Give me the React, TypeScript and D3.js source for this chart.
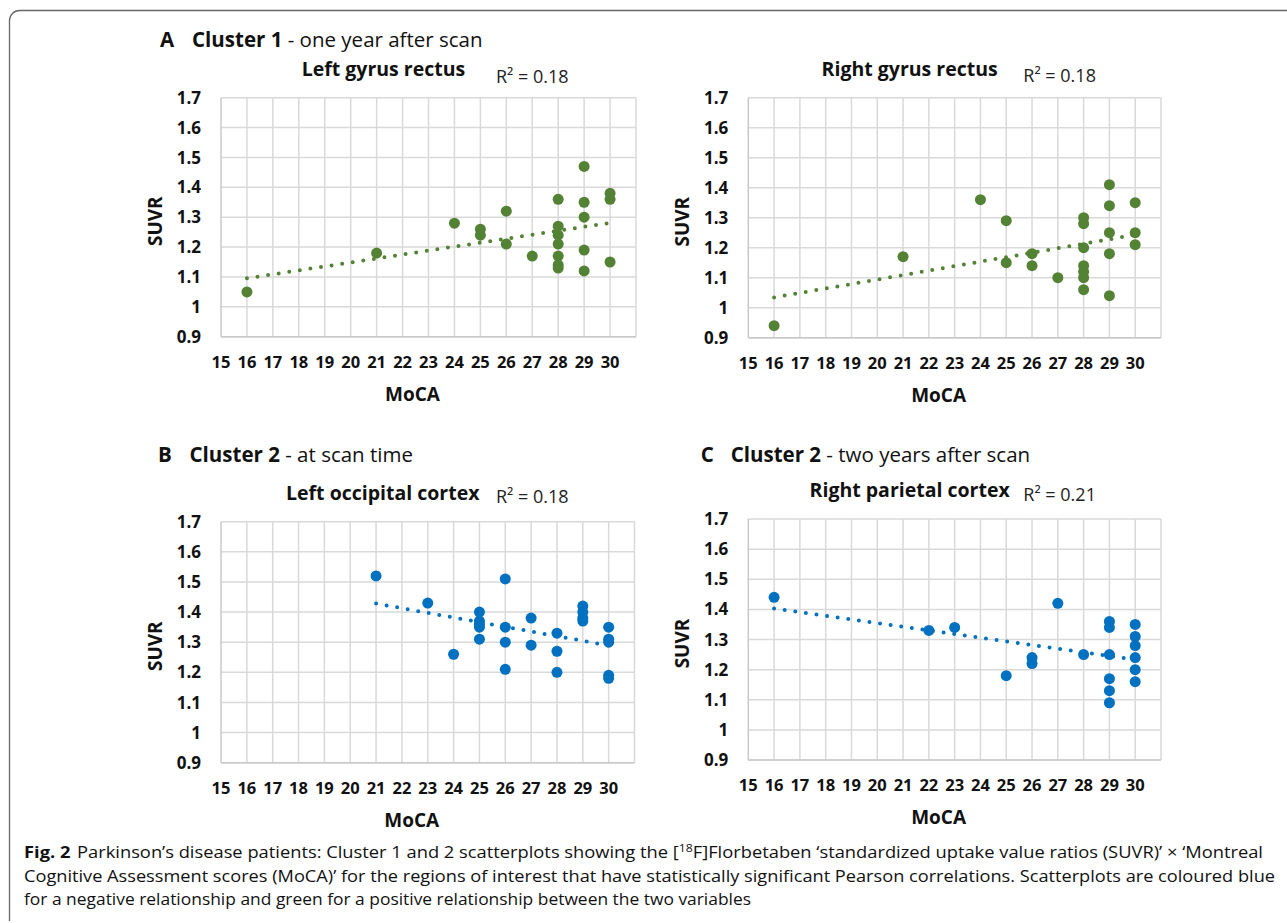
import * as d3 from "d3";
import React from "react";

// tick labels
const mocaTicks = [15, 16, 17, 18, 19, 20, 21, 22, 23, 24, 25, 26, 27, 28, 29, 30];
const suvrTicks = [0.9, 1.0, 1.1, 1.2, 1.3, 1.4, 1.5, 1.6, 1.7];

// A - Cluster 1, one year after scan, left gyrus rectus
const leftGyrusMoca = [16, 21, 24, 25, 25, 26, 26, 27, 28, 28, 28, 28, 28, 28, 28, 29, 29, 29, 29, 29, 30, 30, 30];
const leftGyrusSuvr = [1.05, 1.18, 1.28, 1.26, 1.24, 1.32, 1.21, 1.17, 1.36, 1.27, 1.24, 1.21, 1.17, 1.14, 1.13, 1.47, 1.35, 1.3, 1.19, 1.12, 1.38, 1.36, 1.15];

// right gyrus rectus
const rightGyrusMoca = [16, 21, 24, 25, 25, 26, 26, 27, 28, 28, 28, 28, 28, 28, 28, 29, 29, 29, 29, 29, 30, 30, 30];
const rightGyrusSuvr = [0.94, 1.17, 1.36, 1.29, 1.15, 1.18, 1.14, 1.1, 1.3, 1.28, 1.2, 1.14, 1.12, 1.1, 1.06, 1.41, 1.34, 1.25, 1.18, 1.04, 1.35, 1.25, 1.21];

// B - Cluster 2, at scan time, left occipital cortex
const leftOccMoca = [21, 23, 24, 25, 25, 25, 25, 25, 26, 26, 26, 26, 27, 27, 28, 28, 28, 29, 29, 29, 29, 30, 30, 30, 30, 30];
const leftOccSuvr = [1.52, 1.43, 1.26, 1.4, 1.37, 1.36, 1.35, 1.31, 1.51, 1.35, 1.3, 1.21, 1.38, 1.29, 1.33, 1.27, 1.2, 1.42, 1.4, 1.38, 1.37, 1.35, 1.31, 1.3, 1.19, 1.18];

// C - Cluster 2, two years after scan, right parietal cortex
const rightParMoca = [16, 22, 23, 25, 26, 26, 27, 28, 29, 29, 29, 29, 29, 29, 30, 30, 30, 30, 30, 30];
const rightParSuvr = [1.44, 1.33, 1.34, 1.18, 1.24, 1.22, 1.42, 1.25, 1.36, 1.34, 1.25, 1.17, 1.13, 1.09, 1.35, 1.31, 1.28, 1.24, 1.2, 1.16];

const GREEN = "#548235";
const BLUE = "#0070c0";
const GRID = "#d9d9d9";

// least squares trendline (Excel linear trendline)
function fit(xs, ys) {
  const mx = d3.mean(xs);
  const my = d3.mean(ys);
  let sxy = 0, sxx = 0;
  xs.forEach((x, i) => {
    sxy += (x - mx) * (ys[i] - my);
    sxx += (x - mx) * (x - mx);
  });
  const b = sxy / sxx;
  return (x) => my + b * (x - mx);
}

const Panel = ({ p }) => {
  const x = d3.scaleLinear().domain([15, 31]).range([p.left, p.right]);
  const y = d3.scaleLinear().domain([0.9, 1.7]).range([p.bottom, p.top]);
  const f = fit(p.xs, p.ys);
  const [x0, x1] = d3.extent(p.xs);
  const line = d3.line().x((d) => x(d)).y((d) => y(f(d)));
  const midX = (p.left + p.right) / 2;
  const midY = (p.top + p.bottom) / 2;
  return (
    <g>
      {p.letter && (
        <text x={p.headX} y={p.headY} fontSize={20.5} fontFamily="Open Sans" fill="#111">
          <tspan fontWeight="bold">{p.letter}</tspan>
          <tspan x={p.headX2} fontWeight="bold">{p.cluster}</tspan>
          <tspan>{" - " + p.when}</tspan>
        </text>
      )}
      <text x={midX - 45} y={p.top - 22} textAnchor="middle" fontSize={19.5} fontWeight="bold" fontFamily="Open Sans" fill="#111">
        {p.title}
      </text>
      <text x={p.left + 275} y={p.r2Y} fontSize={18} fontFamily="Open Sans" fill="#222">
        R² = {p.r2}
      </text>
      {d3.range(16, 32).map((v) => (
        <line key={"vx" + v} x1={x(v)} x2={x(v)} y1={y(0.9)} y2={y(1.7)} stroke={GRID} strokeWidth={1.5} />
      ))}
      {suvrTicks.map((v) => (
        <line key={"hy" + v} x1={x(15)} x2={x(31)} y1={y(v)} y2={y(v)} stroke={GRID} strokeWidth={1.5} />
      ))}
      <line x1={x(15)} x2={x(15)} y1={y(0.9)} y2={y(1.7)} stroke="#c8c8c8" strokeWidth={1.5} />
      <line x1={x(15)} x2={x(31)} y1={y(0.9)} y2={y(0.9)} stroke="#c8c8c8" strokeWidth={1.5} />
      {suvrTicks.map((v) => (
        <text key={"yt" + v} x={p.left - 20} y={y(v)} dy="0.36em" textAnchor="end" fontSize={17} fontWeight="bold" fontFamily="Open Sans" fill="#111">
          {d3.format("")(+v.toFixed(1))}
        </text>
      ))}
      {mocaTicks.map((v) => (
        <text key={"xt" + v} x={x(v)} y={p.bottom + 31} textAnchor="middle" fontSize={16.5} fontWeight="bold" fontFamily="Open Sans" fill="#111">
          {v}
        </text>
      ))}
      <text transform={`translate(${p.left - 66},${midY + 4}) rotate(-90)`} dy="0.36em" textAnchor="middle" fontSize={19} fontWeight="bold" fontFamily="Open Sans" fill="#111">
        SUVR
      </text>
      <text x={midX - 16} y={p.bottom + 64} textAnchor="middle" fontSize={19} fontWeight="bold" fontFamily="Open Sans" fill="#111">
        MoCA
      </text>
      {p.xs.map((v, i) => (
        <circle key={"pt" + i} cx={x(v)} cy={y(p.ys[i])} r={5.5} fill={p.color} />
      ))}
      <path d={line([x0, x1])} fill="none" stroke={p.color} strokeWidth={4} strokeDasharray="0 10.7" strokeLinecap="round" />
    </g>
  );
};

const panels = [
  {
    xs: leftGyrusMoca, ys: leftGyrusSuvr, color: GREEN, title: "Left gyrus rectus", r2: "0.18",
    letter: "A", cluster: "Cluster 1", when: "one year after scan", headX: 160, headX2: 192, headY: 47,
    left: 221, right: 636, top: 97.7, bottom: 336.7, r2Y: 83,
  },
  {
    xs: rightGyrusMoca, ys: rightGyrusSuvr, color: GREEN, title: "Right gyrus rectus", r2: "0.18",
    letter: "", cluster: "", when: "", headX: 0, headX2: 0, headY: 0,
    left: 748.3, right: 1161, top: 97.7, bottom: 337.7, r2Y: 82,
  },
  {
    xs: leftOccMoca, ys: leftOccSuvr, color: BLUE, title: "Left occipital cortex", r2: "0.18",
    letter: "B", cluster: "Cluster 2", when: "at scan time", headX: 158, headX2: 189.5, headY: 461.7,
    left: 221, right: 634.5, top: 521.7, bottom: 762.7, r2Y: 502.7,
  },
  {
    xs: rightParMoca, ys: rightParSuvr, color: BLUE, title: "Right parietal cortex", r2: "0.21",
    letter: "C", cluster: "Cluster 2", when: "two years after scan", headX: 700.7, headX2: 730.7, headY: 461.7,
    left: 748.3, right: 1161, top: 519, bottom: 760, r2Y: 500.7,
  },
];

export default function App() {
  return (
    <svg width={1287} height={923} style={{ position: "absolute", left: 0, top: 0, background: "#fff" }}>
      <path d="M9.5,921 L9.5,20.5 A10,10 0 0 1 19.5,10.5 L1290,10.5" fill="none" stroke="#666" strokeWidth={1.3} />
      {panels.map((p, i) => (
        <Panel key={i} p={p} />
      ))}
      <text x={24} y={858} fontSize={16.5} fontFamily="Open Sans" fill="#111" textLength={1239} lengthAdjust="spacingAndGlyphs">
        <tspan fontWeight="bold">Fig. 2</tspan>
        <tspan dx={6}>{"Parkinson’s disease patients: Cluster 1 and 2 scatterplots showing the ["}</tspan>
        <tspan fontSize={11} dy={-6}>18</tspan>
        <tspan dy={6}>{"F]Florbetaben ‘standardized uptake value ratios (SUVR)’ × ‘Montreal"}</tspan>
      </text>
      <text x={24} y={881.5} fontSize={16.5} fontFamily="Open Sans" fill="#111" textLength={1251} lengthAdjust="spacingAndGlyphs">
        Cognitive Assessment scores (MoCA)’ for the regions of interest that have statistically significant Pearson correlations. Scatterplots are coloured blue
      </text>
      <text x={24} y={905} fontSize={16.5} fontFamily="Open Sans" fill="#111" textLength={727} lengthAdjust="spacingAndGlyphs">
        for a negative relationship and green for a positive relationship between the two variables
      </text>
    </svg>
  );
}
